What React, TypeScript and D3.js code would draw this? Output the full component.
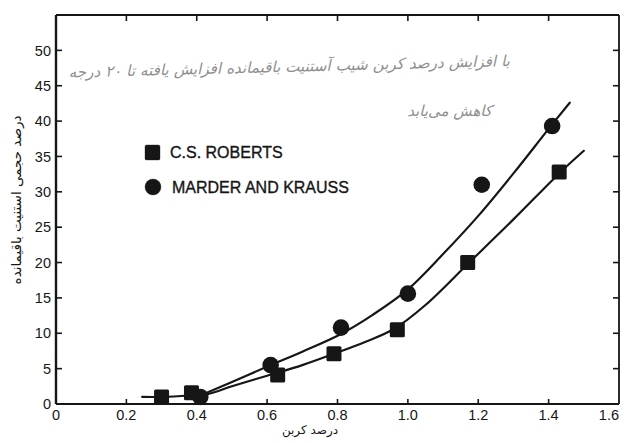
import React from "react";
import * as d3 from "d3";

// Axis ticks
const xTicks = [0, 0.2, 0.4, 0.6, 0.8, 1.0, 1.2, 1.4, 1.6];
const xTickLabels = ["0", "0.2", "0.4", "0.6", "0.8", "1.0", "1.2", "1.4", "1.6"];
const yTicks = [0, 5, 10, 15, 20, 25, 30, 35, 40, 45, 50];
const yTickLabels = ["0", "5", "10", "15", "20", "25", "30", "35", "40", "45", "50"];

// Measured points: carbon (wt%) vs retained austenite (vol%)
const robertsCarbon = [0.3, 0.385, 0.63, 0.79, 0.97, 1.17, 1.43];
const robertsAustenite = [1.0, 1.6, 4.1, 7.1, 10.5, 20.0, 32.8];
const marderCarbon = [0.41, 0.61, 0.81, 1.0, 1.21, 1.41];
const marderAustenite = [1.0, 5.5, 10.8, 15.6, 31.0, 39.3];

// Fitted trend curves
const robertsFitCarbon = [0.245, 0.3, 0.38, 0.43, 0.5, 0.6, 0.7, 0.79, 0.88, 0.96, 1.05, 1.17, 1.3, 1.43, 1.5];
const robertsFitAustenite = [1.0, 1.0, 1.2, 1.4, 2.5, 4.0, 5.5, 7.1, 8.8, 10.6, 14.0, 19.8, 26.1, 32.6, 35.8];
const marderFitCarbon = [0.4, 0.5, 0.61, 0.7, 0.81, 0.9, 1.0, 1.1, 1.2, 1.3, 1.4, 1.46];
const marderFitAustenite = [1.0, 3.1, 5.5, 7.4, 9.9, 12.6, 16.2, 21.2, 26.6, 32.6, 38.9, 42.6];

const legendLabels = ["C.S. ROBERTS", "MARDER AND KRAUSS"];
const xTitle = "درصد کربن";
const yTitle = "درصد حجمی استنیت باقیمانده";
const noteLine1 = "با افزایش درصد کربن شیب آستنیت باقیمانده افزایش یافته تا ۲۰ درجه";
const noteLine2 = "کاهش می‌یابد";

const W = 626;
const H = 443;
const INK = "#161616";

export default function App() {
  const x = d3.scaleLinear().domain([0, 1.6]).range([56, 619]);
  const y = d3.scaleLinear().domain([0, 55]).range([404, 15]);

  const line = d3
    .line<[number, number]>()
    .x((d) => x(d[0]))
    .y((d) => y(d[1]))
    .curve(d3.curveCatmullRom.alpha(0.5));

  const robertsFit = robertsFitCarbon.map((c, i) => [c, robertsFitAustenite[i]] as [number, number]);
  const marderFit = marderFitCarbon.map((c, i) => [c, marderFitAustenite[i]] as [number, number]);

  const sq = 15;
  const sans = "'Liberation Sans', Arial, sans-serif";
  const fa = "'DejaVu Sans', sans-serif";

  const x0 = x(0);
  const x1 = x(1.6);
  const y0 = y(0);
  const yTop = y(55);

  return (
    <svg
      width={W}
      height={H}
      viewBox={`0 0 ${W} ${H}`}
      style={{ position: "absolute", left: 0, top: 0, background: "#fff" }}
    >
      <rect x={0} y={0} width={W} height={H} fill="#fff" />

      {/* handwritten note */}
      <g fill="#8f8f8f" fontFamily={fa} fontStyle="italic" direction="rtl">
        <text x={510} y={66} fontSize={15.2} textAnchor="start" transform="rotate(-1.5 510 66)">
          {noteLine1}
        </text>
        <text x={492} y={116} fontSize={15} textAnchor="start">
          {noteLine2}
        </text>
      </g>

      {/* frame */}
      <g stroke={INK} fill="none">
        <line x1={x0} y1={yTop} x2={x0} y2={y0} strokeWidth={2.4} />
        <line x1={x0} y1={y0} x2={x1} y2={y0} strokeWidth={2.2} />
        <line x1={x0} y1={yTop} x2={x1} y2={yTop} strokeWidth={2} />
        <line x1={x1} y1={yTop} x2={x1} y2={y0} strokeWidth={1.8} />
      </g>

      {/* ticks */}
      <g stroke={INK} strokeWidth={1.6}>
        {yTicks.slice(1).map((t) => (
          <g key={"yt" + t}>
            <line x1={x0} x2={x0 + 6} y1={y(t)} y2={y(t)} />
            <line x1={x1} x2={x1 - 6} y1={y(t)} y2={y(t)} />
          </g>
        ))}
        {xTicks.slice(1, -1).map((t) => (
          <g key={"xt" + t}>
            <line x1={x(t)} x2={x(t)} y1={yTop} y2={yTop + 6} />
            <line x1={x(t)} x2={x(t)} y1={y0} y2={y0 - 5} />
          </g>
        ))}
      </g>

      {/* tick labels */}
      <g fill={INK} fontFamily={sans} fontSize={14.5}>
        {yTicks.map((t, i) => (
          <text key={"yl" + t} x={x0 - 5} y={y(t)} dy="0.36em" textAnchor="end">
            {yTickLabels[i]}
          </text>
        ))}
        {xTicks.map((t, i) => (
          <text
            key={"xl" + t}
            x={Math.min(x(t), W - 2)}
            y={y0 + 16}
            textAnchor={x(t) + 12 > W ? "end" : "middle"}
          >
            {xTickLabels[i]}
          </text>
        ))}
      </g>

      {/* axis titles */}
      <text x={310} y={434} fontFamily={fa} fontSize={12} fill={INK} textAnchor="middle">
        {xTitle}
      </text>
      <text
        transform={`translate(21,200) rotate(-90)`}
        fontFamily={fa}
        fontSize={13.5}
        fill={INK}
        textAnchor="middle"
      >
        {yTitle}
      </text>

      {/* fitted curves */}
      <g fill="none" stroke={INK} strokeWidth={2.2} strokeLinecap="round">
        <path d={line(robertsFit) || ""} />
        <path d={line(marderFit) || ""} />
      </g>

      {/* data markers */}
      <g fill={INK}>
        {robertsCarbon.map((c, i) => (
          <rect
            key={"r" + i}
            x={x(c) - sq / 2}
            y={y(robertsAustenite[i]) - sq / 2}
            width={sq}
            height={sq}
            rx={1.5}
          />
        ))}
        {marderCarbon.map((c, i) => (
          <circle key={"m" + i} cx={x(c)} cy={y(marderAustenite[i])} r={8.3} />
        ))}
      </g>

      {/* legend */}
      <g fontFamily={sans} fontSize={16} fill={INK} stroke={INK} strokeWidth={0.35}>
        <rect x={145} y={145} width={15} height={15} rx={1.5} />
        <text x={170} y={158}>{legendLabels[0]}</text>
        <circle cx={153} cy={187} r={8} />
        <text x={172} y={193}>{legendLabels[1]}</text>
      </g>
    </svg>
  );
}
